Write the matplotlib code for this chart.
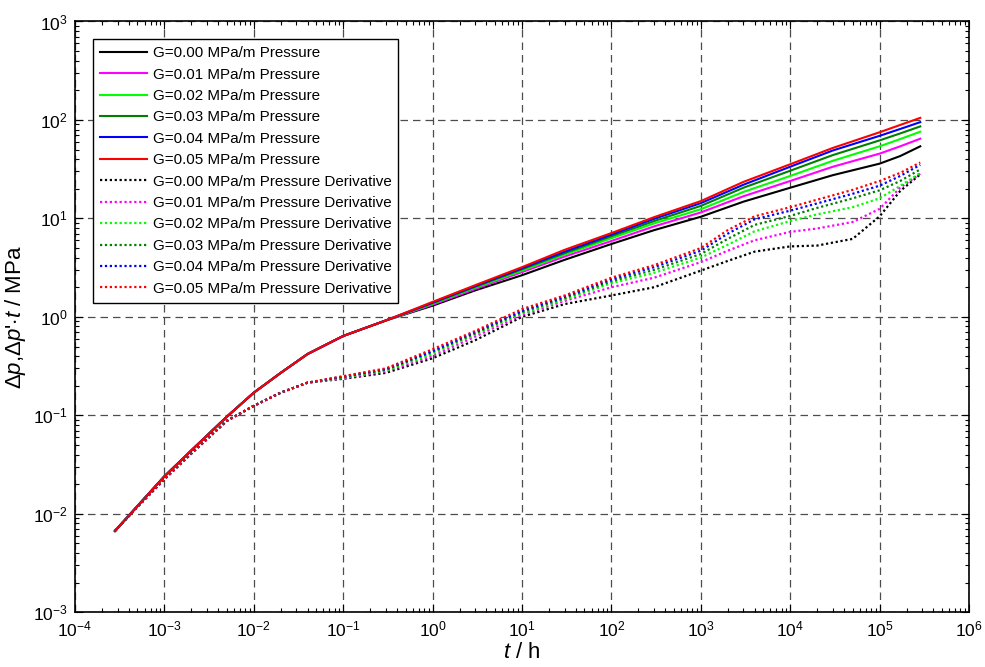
import matplotlib
matplotlib.use("Agg")
import matplotlib.pyplot as plt

# early time: all G curves coincide
t_early = [2.8e-4, 5e-4, 1e-3, 2e-3, 5e-3, 1e-2, 2e-2, 4e-2, 1e-1, 3e-1]
p_early = [0.0067, 0.012, 0.024, 0.044, 0.097, 0.17, 0.27, 0.42, 0.64, 0.92]
t_early_d = [2.8e-4, 5e-4, 1e-3, 2e-3, 5e-3, 1e-2, 2e-2, 4e-2]
dp_early = [0.0067, 0.0118, 0.0225, 0.041, 0.088, 0.125, 0.17, 0.215]

# pressure, later times
t_late_p = [1, 3, 10, 30, 100, 300, 1e3, 3e3, 1e4, 3e4, 1e5, 1.7e5, 2.85e5]
p_g000 = [1.30, 1.86, 2.65, 3.8, 5.5, 7.6, 10.4, 14.8, 20.5, 27.5, 36, 43, 54]
p_g001 = [1.33, 1.92, 2.85, 4.1, 5.9, 8.3, 11.5, 16.8, 24, 33.5, 45.5, 54, 64.5]
p_g002 = [1.36, 1.98, 2.95, 4.3, 6.3, 8.9, 12.4, 18.6, 27, 38.5, 54, 64, 76]
p_g003 = [1.38, 2.02, 3.05, 4.45, 6.6, 9.4, 13.4, 20.5, 30.5, 44, 62, 73, 86]
p_g004 = [1.40, 2.06, 3.12, 4.6, 6.85, 9.9, 14.3, 22, 33.5, 49, 69, 81, 95]
p_g005 = [1.42, 2.10, 3.2, 4.8, 7.1, 10.3, 15, 23.5, 35.5, 52, 75, 89, 105]

# pressure derivative, later times
t_late_d = [0.1, 0.3, 1, 3, 10, 30, 100, 300, 1e3, 2e3, 4e3, 1e4, 2e4, 5e4, 1e5, 1.7e5, 2.85e5]
d_g000 = [0.235, 0.27, 0.38, 0.58, 1.0, 1.35, 1.65, 2.0, 2.95, 3.7, 4.6, 5.2, 5.3, 6.2, 10.5, 19, 28]
d_g001 = [0.238, 0.28, 0.40, 0.63, 1.05, 1.45, 2.0, 2.5, 3.6, 4.7, 6.0, 7.3, 7.9, 9.2, 12.5, 20.5, 28.4]
d_g002 = [0.242, 0.285, 0.42, 0.66, 1.08, 1.5, 2.2, 2.8, 4.0, 5.4, 7.4, 9.4, 11, 13, 16, 21.4, 29]
d_g003 = [0.245, 0.29, 0.44, 0.68, 1.12, 1.55, 2.3, 3.0, 4.35, 6.2, 8.6, 10.6, 12.8, 16, 19.3, 24, 31.5]
d_g004 = [0.248, 0.295, 0.45, 0.70, 1.15, 1.6, 2.4, 3.2, 4.7, 7.0, 9.8, 12, 14.2, 17.8, 21.5, 27, 35]
d_g005 = [0.25, 0.30, 0.47, 0.72, 1.2, 1.65, 2.5, 3.35, 5.0, 7.6, 10.5, 13, 15.5, 19.5, 24, 29, 37]

gradients = ["0.00", "0.01", "0.02", "0.03", "0.04", "0.05"]
colors = ["#000000", "#ff00ff", "#00ff00", "#008000", "#0000ff", "#ff0000"]

plt.rcParams["font.family"] = ["Liberation Sans", "DejaVu Sans"]
plt.rcParams["mathtext.fontset"] = "custom"
plt.rcParams["mathtext.rm"] = "Liberation Sans"
plt.rcParams["mathtext.it"] = "Liberation Sans:italic"
plt.rcParams["mathtext.bf"] = "Liberation Sans:bold"

fig = plt.figure(figsize=(9.85, 6.67), dpi=100)
ax = fig.add_axes([0.07614, 0.08201, 0.90761, 0.88576])

pressures = [p_g000, p_g001, p_g002, p_g003, p_g004, p_g005]
derivs = [d_g000, d_g001, d_g002, d_g003, d_g004, d_g005]

for g, c, p in zip(gradients, colors, pressures):
    ax.plot(t_early + t_late_p, p_early + p, color=c, lw=1.5, ls="-",
            label=f"G={g} MPa/m Pressure")

for g, c, d in zip(gradients, colors, derivs):
    ax.plot(t_early_d + t_late_d, dp_early + d, color=c, lw=1.6, ls=(0, (1, 1.2)),
            label=f"G={g} MPa/m Pressure Derivative")

ax.set_xscale("log")
ax.set_yscale("log")
ax.set_xlim(1e-4, 1e6)
ax.set_ylim(1e-3, 1e3)

ax.grid(True, which="major", color="0.3", lw=0.9, ls=(0, (6, 4)))
ax.tick_params(which="both", direction="in", top=True, right=True, labelsize=12.5, width=0.8)
ax.tick_params(which="major", length=5.5, pad=5)
ax.tick_params(which="minor", length=3)
for s in ax.spines.values():
    s.set_linewidth(1.2)

ax.set_xlabel("$t$ / h", fontsize=16, labelpad=2)
ax.set_ylabel("$\\Delta p$,$\\Delta p$'$\\cdot t$ / MPa", fontsize=16, labelpad=4)

leg = ax.legend(loc="upper left", bbox_to_anchor=(0.0205, 0.9699), borderaxespad=0,
                fontsize=10.9, handlelength=3.1, handletextpad=0.36, labelspacing=0.49,
                borderpad=0.45, fancybox=False, framealpha=1, edgecolor="black")
leg.get_frame().set_linewidth(1.0)

fig.savefig("out.png", dpi=100)
